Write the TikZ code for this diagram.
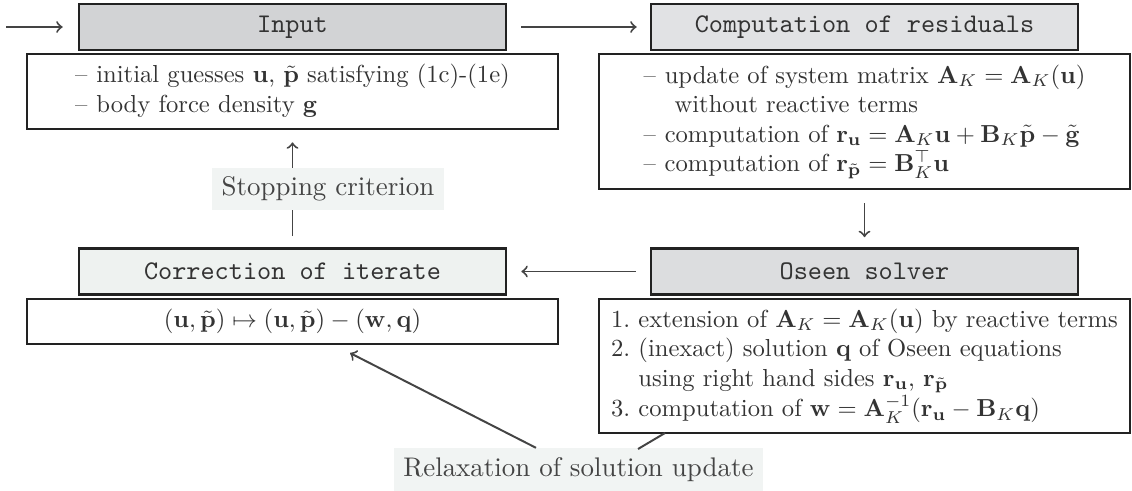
\documentclass[tikz,border=0pt]{standalone}
\usetikzlibrary{calc}
\newcommand\pxu{0.4065pt}
\definecolor{tin}{HTML}{D2D3D5}
\definecolor{tcomp}{HTML}{E1E2E4}
\definecolor{tcorr}{HTML}{EEF2F0}
\definecolor{tose}{HTML}{DCDDDF}
\definecolor{lbl}{HTML}{F1F4F3}
\definecolor{ln}{HTML}{444444}
\definecolor{bd}{HTML}{222222}
\definecolor{txt}{HTML}{333333}
\begin{document}
\begin{tikzpicture}[x=0.4065pt,y=-0.4065pt,
  titlebox/.style={draw=bd, line width=1.1pt, minimum width={427*\pxu}, minimum height={46*\pxu}, inner sep=0pt, font=\fontsize{10.95}{13.6}\selectfont\ttfamily, text=txt},
  contbox/.style={draw=bd, line width=1.1pt, minimum width={531*\pxu}, inner sep=0pt, text=txt, font=\fontsize{10}{12}\selectfont},
  lab/.style={fill=lbl, text=ln, inner xsep=4pt, inner ysep=3.7pt, font=\fontsize{10.95}{13.6}\selectfont},
  conn/.style={draw=ln, line width=0.8pt, ->},
  plain/.style={draw=ln, line width=0.8pt}]
\useasboundingbox (0,0) rectangle (1132,490);
\fill[white] (0,0) rectangle (1132,490);
% title boxes
\node[titlebox, fill=tin] (intitle) at (292.5,27) {Input};
\node[titlebox, fill=tcomp] (comptitle) at (864.5,27) {Computation of residuals};
\node[titlebox, fill=tcorr] (corrtitle) at (292.5,271.5) {Correction of iterate};
\node[titlebox, fill=tose] (osetitle) at (864.5,271.5) {Oseen solver};
% content boxes
\node[contbox, minimum height={75*\pxu}] (incont) at (292.5,91.5) {%
  \begin{tabular}{@{}l@{\hspace{3.6pt}}l@{}}
  \textendash & initial guesses $\mathbf{u}$, $\tilde{\mathbf{p}}$ satisfying (1c)-(1e)\\
  \textendash & body force density $\mathbf{g}$
  \end{tabular}};
\node[contbox, minimum height={135*\pxu}] (compcont) at (864.5,121.5) {%
  \begin{tabular}{@{}l@{\hspace{3.6pt}}l@{}}
  \textendash & update of system matrix $\mathbf{A}_K=\mathbf{A}_K(\mathbf{u})$\\
   & \hspace{4pt}without reactive terms\\
  \textendash & computation of $\mathbf{r}_{\mathbf{u}}=\mathbf{A}_K\mathbf{u}+\mathbf{B}_K\tilde{\mathbf{p}}-\tilde{\mathbf{g}}$\\
  \textendash & computation of $\mathbf{r}_{\tilde{\mathbf{p}}}=\mathbf{B}_K^{\top}\mathbf{u}$
  \end{tabular}};
\node[contbox, minimum height={45*\pxu}] (corrcont) at (292.5,321.5) {%
  $(\mathbf{u},\tilde{\mathbf{p}})\mapsto(\mathbf{u},\tilde{\mathbf{p}})-(\mathbf{w},\mathbf{q})$};
\node[contbox, minimum height={134*\pxu}] (osecont) at (864.5,366) {%
  \begin{tabular}{@{}l@{\hspace{3.33pt}}l@{}}
  1. & extension of $\mathbf{A}_K=\mathbf{A}_K(\mathbf{u})$ by reactive terms\\
  2. & (inexact) solution $\mathbf{q}$ of Oseen equations\\
   & using right hand sides $\mathbf{r}_{\mathbf{u}}$, $\mathbf{r}_{\tilde{\mathbf{p}}}$\\
  3. & computation of $\mathbf{w}=\mathbf{A}_K^{-1}(\mathbf{r}_{\mathbf{u}}-\mathbf{B}_K\mathbf{q})$
  \end{tabular}};
% connectors
\coordinate (start) at (6,27);
\draw[conn, shorten >={15*\pxu}] (start) -- (intitle.west);
\draw[conn, shorten <={14*\pxu}, shorten >={13*\pxu}] (intitle.east) -- (comptitle.west);
\draw[conn, shorten <={13*\pxu}, shorten >={10*\pxu}] (compcont.south) -- (osetitle.north);
\draw[conn, shorten <={14*\pxu}, shorten >={14*\pxu}] (osetitle.west) -- (corrtitle.east);
\draw[conn, shorten <={11*\pxu}, shorten >={12*\pxu}] (corrtitle.north) -- (incont.south);
\node[lab] (stop) at (328,189) {Stopping criterion};
\node[lab] (relax) at (578.5,469.5) {Relaxation of solution update};
\coordinate (rt) at (350,353);
\coordinate (os) at (665,433);
\coordinate (rs) at (638,449);
\draw[conn] (relax) -- (rt);
\draw[plain] (os) -- (rs);
\end{tikzpicture}
\end{document}
